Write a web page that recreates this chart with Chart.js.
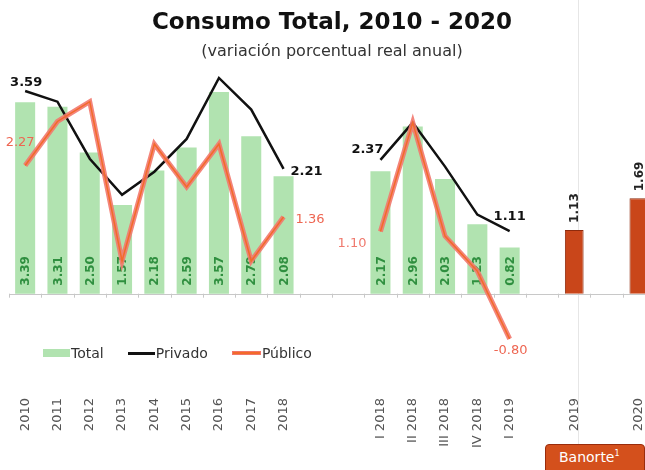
<!DOCTYPE html>
<html>
<head>
<meta charset="utf-8">
<script src="https://cdn.jsdelivr.net/npm/chart.js@4.4.1/dist/chart.umd.min.js"></script>
<style>
  body { margin: 0; background: #fff; overflow: hidden; }
  #wrap { position: relative; width: 665px; height: 470px; }
  #sep { position: absolute; left: 578px; top: 0; width: 1px; height: 470px; background: #e6e6e6; }
  canvas { position: absolute; left: 0; top: 0; }
  #legend { position: absolute; left: 43px; top: 345px; display: flex; align-items: center;
    font-family: "DejaVu Sans"; font-size: 14px; color: #333; }
  #legend span.sw { display: inline-block; margin-right: 1px; }
  #legend span.tx { margin-right: 24px; }
  #banorte { position: absolute; left: 545px; top: 444px; width: 100px; height: 30px;
    background: #d4501c; border: 1px solid #9a2c0c; border-radius: 4px 4px 0 0;
    color: #fff; font-family: "DejaVu Sans"; font-size: 14px;
    box-sizing: border-box; padding: 4px 0 0 13px; }
</style>
</head>
<body>
<div id="wrap">
  <div id="sep"></div>
  <canvas id="grafico" width="665" height="470"></canvas>
  <div id="legend"></div>
  <div id="banorte">Banorte<sup style="font-size:8px">1</sup></div>
</div>
<script>
// Categorías (con huecos vacíos entre los bloques)
const categorias = ["2010", "2011", "2012", "2013", "2014", "2015", "2016", "2017", "2018", "", "",
  "I 2018", "II 2018", "III 2018", "IV 2018", "I 2019", "", "2019", "", "2020"];

const total = [3.39, 3.31, 2.50, 1.57, 2.18, 2.59, 3.57, 2.79, 2.08, null, null,
  2.17, 2.96, 2.03, 1.23, 0.82, null, null, null, null];
const pronostico = [null, null, null, null, null, null, null, null, null, null, null,
  null, null, null, null, null, null, 1.13, null, 1.69];
const privado = [3.59, 3.40, 2.39, 1.75, 2.16, 2.74, 3.82, 3.26, 2.21, null, null,
  2.37, 3.03, 2.25, 1.40, 1.11, null, null, null, null];
const publico = [2.27, 3.05, 3.40, 0.58, 2.65, 1.89, 2.65, 0.58, 1.36, null, null,
  1.10, 3.03, 1.02, 0.40, -0.80, null, null, null, null];

// etiquetas de las líneas: serie, índice y desplazamiento
const etiquetasLinea = [
  { serie: "Privado", i: 0, color: "#111", bold: true, align: "center", dx: 1, dy: -8 },
  { serie: "Privado", i: 8, color: "#111", bold: true, align: "left", dx: 7, dy: 3 },
  { serie: "Público", i: 0, color: "#ee6652", bold: false, align: "center", dx: -5, dy: -23 },
  { serie: "Público", i: 8, color: "#ee6652", bold: false, align: "left", dx: 12, dy: 3 },
  { serie: "Privado", i: 11, color: "#111", bold: true, align: "right", dx: 3, dy: -10 },
  { serie: "Privado", i: 15, color: "#111", bold: true, align: "center", dx: 0, dy: -14 },
  { serie: "Público", i: 11, color: "#f07a6e", bold: false, align: "right", dx: -14, dy: 12 },
  { serie: "Público", i: 15, color: "#ee6652", bold: false, align: "center", dx: 1, dy: 12 },
];

const FUENTE = "DejaVu Sans";

// línea del cero y marcas entre categorías
const lineaCero = {
  id: "lineaCero",
  beforeDatasetsDraw(chart) {
    const { ctx, chartArea, scales } = chart;
    const y0 = scales.y.getPixelForValue(0);
    const paso = scales.x.getPixelForValue(1) - scales.x.getPixelForValue(0);
    ctx.save();
    ctx.strokeStyle = "#c8c8c8";
    ctx.lineWidth = 1;
    ctx.beginPath();
    ctx.moveTo(chartArea.left, Math.round(y0) + 0.5);
    ctx.lineTo(chartArea.right, Math.round(y0) + 0.5);
    for (let i = 0; i <= categorias.length; i++) {
      const x = Math.round(scales.x.getPixelForValue(i) - paso / 2) + 0.5;
      ctx.moveTo(x, y0);
      ctx.lineTo(x, y0 + 4);
    }
    ctx.stroke();
    ctx.restore();
  },
};

// valores dentro/encima de las barras (rotados)
const etiquetasBarras = {
  id: "etiquetasBarras",
  afterDatasetDraw(chart, args) {
    const ds = chart.data.datasets[args.index];
    if (ds.type !== "bar") return;
    const ctx = chart.ctx;
    const y0 = chart.scales.y.getPixelForValue(0);
    args.meta.data.forEach((bar, i) => {
      const v = ds.data[i];
      if (v == null) return;
      ctx.save();
      const dentro = ds.label === "Total";
      ctx.translate(bar.x, dentro ? y0 - 8 : bar.y - 7);
      ctx.rotate(-Math.PI / 2);
      ctx.font = "bold 12px " + FUENTE;
      ctx.fillStyle = dentro ? "#2f8f3f" : "#222";
      ctx.textAlign = "left";
      ctx.textBaseline = "middle";
      ctx.fillText(v.toFixed(2), 0, 1);
      ctx.restore();
    });
  },
};

const etiquetasLineas = {
  id: "etiquetasLineas",
  afterDatasetsDraw(chart) {
    const ctx = chart.ctx;
    etiquetasLinea.forEach((e) => {
      const di = chart.data.datasets.findIndex((d) => d.label === e.serie);
      const pt = chart.getDatasetMeta(di).data[e.i];
      const v = chart.data.datasets[di].data[e.i];
      ctx.save();
      ctx.font = (e.bold ? "bold " : "") + "13px " + FUENTE;
      ctx.fillStyle = e.color;
      ctx.textAlign = e.align;
      ctx.textBaseline = "middle";
      ctx.fillText(v.toFixed(2), pt.x + e.dx, pt.y + e.dy);
      ctx.restore();
    });
  },
};

const ctx = document.getElementById("grafico").getContext("2d");
const chart = new Chart(ctx, {
  data: {
    labels: categorias,
    datasets: [
      {
        type: "bar",
        label: "Total",
        data: total,
        backgroundColor: "#b1e3b0",
        grouped: false,
        barPercentage: 0.62,
        categoryPercentage: 1,
        order: 3,
      },
      {
        type: "bar",
        label: "Banorte",
        data: pronostico,
        backgroundColor: "#c9461a",
        borderColor: "#8e2a0c",
        borderWidth: 1,
        grouped: false,
        barPercentage: 0.58,
        categoryPercentage: 1,
        order: 3,
      },
      {
        type: "line",
        label: "Privado",
        data: privado,
        borderColor: "#111",
        borderWidth: 2.5,
        pointRadius: 0,
        spanGaps: false,
        tension: 0,
        order: 2,
      },
      {
        type: "line",
        label: "Público",
        data: publico,
        borderColor: "rgba(242,120,110,0.9)",
        borderWidth: 5,
        pointRadius: 0,
        spanGaps: false,
        tension: 0,
        order: 1,
      },
      {
        type: "line",
        label: "Público centro",
        data: publico,
        borderColor: "#f36a2a",
        borderWidth: 1.5,
        pointRadius: 0,
        spanGaps: false,
        tension: 0,
        order: 0,
      },
    ],
  },
  options: {
    responsive: false,
    animation: false,
    layout: { padding: { left: 9, right: 10, top: 0, bottom: 16 } },
    scales: {
      x: {
        grid: { display: false },
        border: { display: false },
        ticks: {
          autoSkip: false,
          maxRotation: 90,
          minRotation: 90,
          padding: 6,
          color: "#555",
          font: { family: FUENTE, size: 13 },
        },
      },
      y: { display: false, min: -1.6, max: 4.0 },
    },
    plugins: {
      legend: { display: false },
      tooltip: { enabled: false },
      title: {
        display: true,
        text: "Consumo Total, 2010 - 2020",
        color: "#111",
        font: { family: FUENTE, size: 23, weight: "bold" },
        padding: { top: 9, bottom: 6 },
      },
      subtitle: {
        display: true,
        text: "(variación porcentual real anual)",
        color: "#333",
        font: { family: FUENTE, size: 16 },
        padding: { top: 0, bottom: 6 },
      },
    },
  },
  plugins: [lineaCero, etiquetasBarras, etiquetasLineas],
});

// leyenda en HTML a partir de los datasets
const leyenda = document.getElementById("legend");
chart.data.datasets.slice(0, 4).forEach((d) => {
  if (d.label === "Banorte") return;
  const sw = document.createElement("span");
  sw.className = "sw";
  if (d.type === "bar") {
    sw.style.cssText = "width:27px;height:8px;background:" + d.backgroundColor;
  } else if (d.label === "Público") {
    sw.style.cssText = "width:27px;height:2px;background:#f36a2a;border:1.5px solid rgba(242,120,110,0.9)";
  } else {
    sw.style.cssText = "width:27px;height:3px;background:" + d.borderColor;
  }
  const tx = document.createElement("span");
  tx.className = "tx";
  tx.textContent = d.label;
  leyenda.appendChild(sw);
  leyenda.appendChild(tx);
});
</script>
</body>
</html>
